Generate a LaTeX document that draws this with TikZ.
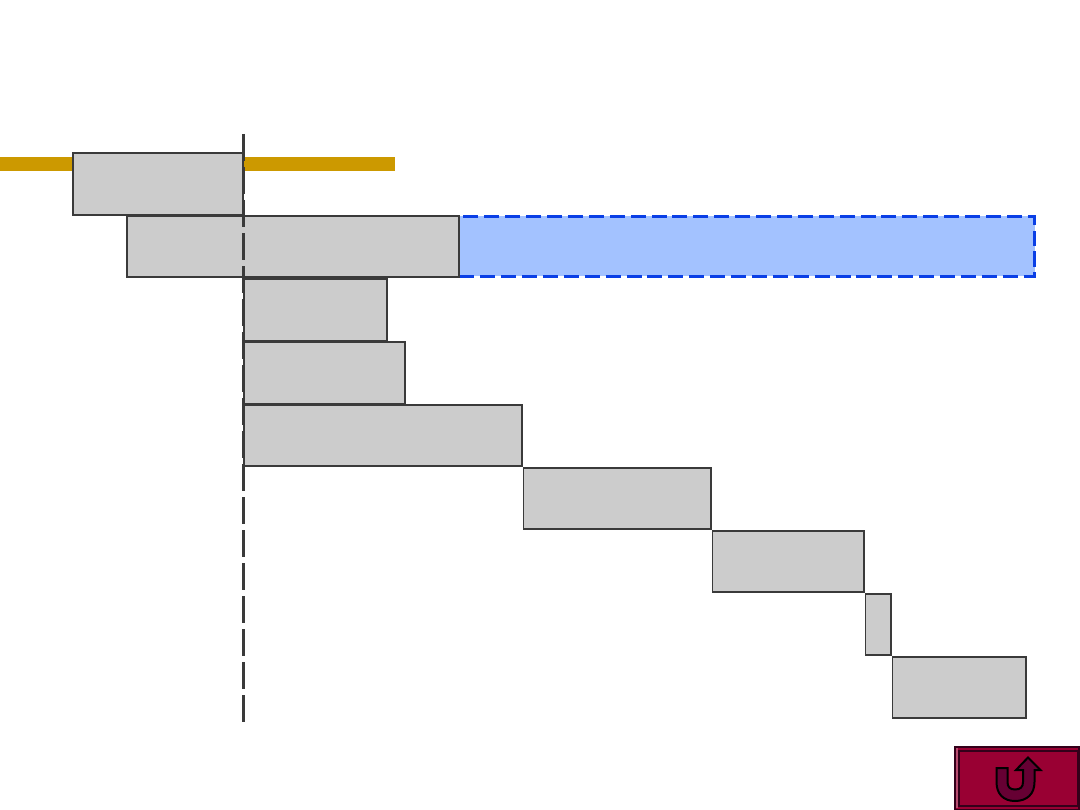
\documentclass[tikz,border=0pt]{standalone}
\definecolor{bargray}{HTML}{CCCCCC}
\definecolor{edgegray}{HTML}{3A3A3A}
\definecolor{axisgold}{HTML}{CC9900}
\definecolor{slackblue}{HTML}{A3C2FF}
\definecolor{slackedge}{HTML}{0A3FE6}
\definecolor{btnred}{HTML}{990033}
\definecolor{btndark}{HTML}{660033}
\definecolor{btnedge}{HTML}{33001A}
\definecolor{btnlight}{HTML}{B84D70}
\tikzset{
  bar/.style={rectangle, anchor=north west, inner sep=0pt, outer sep=0pt, fill=bargray, draw=edgegray, line width=0.4mm},
  goldbar/.style={rectangle, anchor=north west, inner sep=0pt, outer sep=0pt, fill=axisgold, minimum height=3.5mm},
  slack/.style={rectangle, anchor=north west, inner sep=0pt, outer sep=0pt, fill=slackblue, draw=slackedge, line width=0.75mm, dash pattern=on 3.75mm off 1.475mm, dash phase=5.025mm}
}
\begin{document}
\begin{tikzpicture}[x=0.25mm,y=-0.25mm]
\useasboundingbox (0,0) rectangle (1080,810);
\node [goldbar, minimum width=18.25mm] (goldl) at (0,157) {};
\node [goldbar, minimum width=37.75mm] (goldr) at (244,157) {};
\node [slack, minimum width=144mm, minimum height=15mm] (slackbox) at (458.5,216.5) {};
\node [bar, minimum width=42.5mm, minimum height=15.5mm] (task1) at (73,153) {};
\node [bar, minimum width=83mm, minimum height=15.25mm] (task2) at (127,216) {};
\node [bar, minimum width=35.75mm, minimum height=15.5mm] (task3) at (244,279) {};
\node [bar, minimum width=40.25mm, minimum height=15.5mm] (task4) at (244,342) {};
\node [bar, minimum width=69.5mm, minimum height=15.25mm] (task5) at (244,405) {};
\node [bar, minimum width=46.875mm, minimum height=15.25mm] (task6) at (523.5,468) {};
\node [bar, minimum width=37.875mm, minimum height=15.25mm] (task7) at (712.5,531) {};
\node [bar, minimum width=6.375mm, minimum height=15.25mm] (task8) at (865.5,594) {};
\node [bar, minimum width=33.375mm, minimum height=15.25mm] (task9) at (892.5,657) {};
\coordinate (today1) at (243.5,134);
\coordinate (today2) at (243.5,722);
\draw [edgegray, line width=0.75mm, dash pattern=on 6.75mm off 1.5mm] (today1) -- (today2);
% return button
\node [rectangle, anchor=north west, inner sep=0pt, outer sep=0pt, fill=btnred, draw=btnedge, line width=0.5mm, minimum width=31mm, minimum height=15.75mm] (backbtn) at (955,746.5) {};
\fill [btnlight] (955.5,747.5) rectangle (958,808);
\draw [btnedge, line width=0.4mm] (959,751) rectangle (1078,806);
\draw [fill=btndark, draw=black, line width=0.5mm] (996.5,768) -- (1007.5,768) -- (1007.5,782)
  .. controls (1007.5,787) and (1010,789.5) .. (1015,789.5) .. controls (1020.5,789.5) and (1023,787) .. (1023,782)
  -- (1023,770) -- (1016,770) -- (1028,757.5) -- (1040.5,770) -- (1034.5,770) -- (1034.5,782)
  .. controls (1034.5,794) and (1027,801) .. (1015,801) .. controls (1003.5,801) and (996.5,794) .. (996.5,782) -- cycle;
\end{tikzpicture}
\end{document}
